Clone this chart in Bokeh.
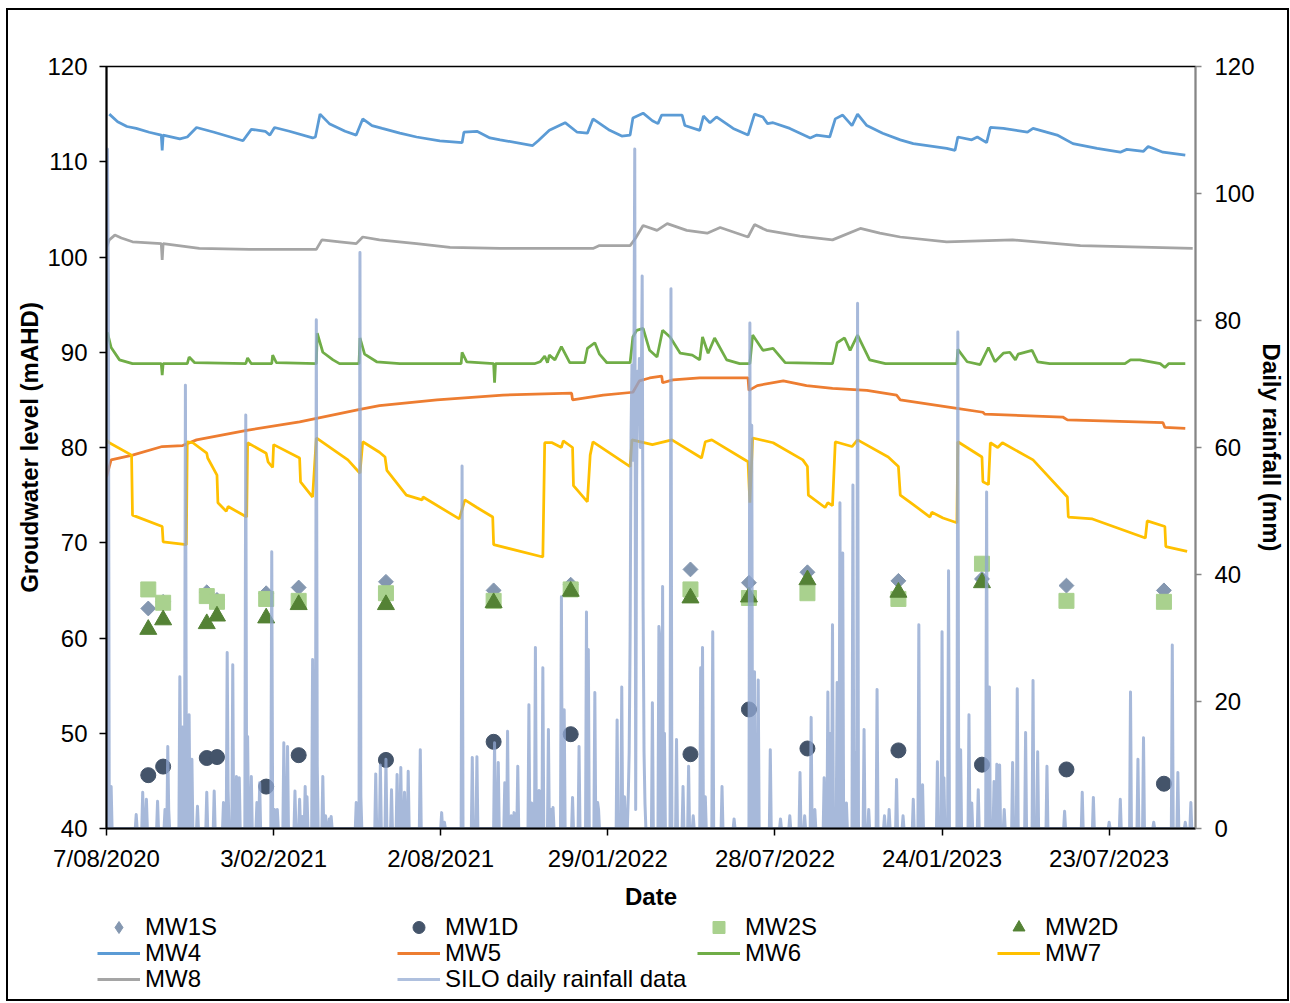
import numpy as np
from bokeh.plotting import figure
from bokeh.layouts import column
from bokeh.models import Range1d, LinearAxis, FixedTicker, Legend, LegendItem
from bokeh.embed import file_html
from bokeh.resources import INLINE

# ---------------- data (x = days since 7/08/2020) ----------------
START_DATE = "2020-08-07"
X_TICK_DAYS = [0, 180, 360, 540, 720, 900, 1080]
X_TICK_LABELS = ["7/08/2020", "3/02/2021", "2/08/2021", "29/01/2022",
                 "28/07/2022", "24/01/2023", "23/07/2023"]
X_END_DAY = 1173

SAMPLE_DAYS = [45, 61, 108, 119, 172, 207, 301, 417, 500, 629, 692, 755, 853, 943, 1034, 1139]
MW1S = [63.1, 63.8, 64.8, 64.0, 64.7, 65.3, 65.9, 65.0, 65.6, 67.2, 65.8, 66.9, 66.0, 66.2, 65.5, 65.0]
MW1D = [45.6, 46.5, 47.4, 47.5, 44.4, 47.7, 47.2, 49.1, 49.9, 47.8, 52.5, 48.4, 48.2, 46.7, 46.2, 44.7]
MW2S = [65.1, 63.7, 64.4, 63.8, 64.1, 63.9, 64.7, 63.9, 65.1, 65.1, 64.2, 64.7, 64.1, 67.8, 63.9, 63.8]
MW2D = [60.9, 61.9, 61.5, 62.3, 62.1, 63.5, 63.5, 63.7, 64.9, 64.2, 64.3, 66.1, 64.8, 65.8, float("nan"), float("nan")]

MW4_DAYS = [3, 12, 22, 32, 46, 59, 60, 61, 79, 87, 97, 116, 147, 156, 171, 176, 181, 197, 222, 225,
            230, 240, 257, 269, 276, 286, 297, 316, 334, 359, 383, 385, 399, 413, 424, 459, 465, 477,
            494, 507, 518, 524, 542, 555, 564, 567, 578, 588, 594, 598, 607, 620, 623, 639, 643, 650,
            657, 675, 691, 698, 707, 712, 718, 736, 758, 765, 779, 785, 793, 803, 809, 819, 836, 855,
            869, 905, 914, 917, 932, 938, 948, 952, 966, 992, 998, 1024, 1041, 1067, 1092, 1099, 1117,
            1122, 1138, 1162]
MW4 = [115.0, 114.2, 113.7, 113.5, 113.1, 112.8, 111.2, 112.8, 112.4, 112.6, 113.6, 113.1, 112.2, 113.4,
       113.2, 112.8, 113.6, 113.2, 112.5, 112.6, 115.0, 114.0, 113.2, 112.8, 114.5, 113.8, 113.5, 113.0,
       112.6, 112.2, 112.0, 113.1, 113.2, 112.5, 112.3, 111.7, 112.2, 113.3, 114.1, 113.1, 113.0, 114.5,
       113.3, 112.7, 112.8, 114.6, 115.1, 114.3, 114.0, 114.9, 114.9, 114.9, 113.8, 113.3, 114.8, 114.1,
       114.7, 113.5, 112.8, 115.0, 114.7, 114.0, 114.1, 113.5, 112.5, 112.8, 112.6, 114.5, 114.9, 113.8,
       115.0, 113.8, 113.0, 112.3, 111.9, 111.4, 111.2, 112.6, 112.3, 112.6, 112.0, 113.6, 113.5, 113.1,
       113.5, 112.8, 111.9, 111.4, 111.0, 111.3, 111.1, 111.6, 111.0, 110.7]

MW5_DAYS = [0, 3, 5, 28, 60, 82, 97, 151, 208, 273, 294, 356, 427, 501, 502, 535, 567, 574, 585, 598,
            599, 610, 639, 691, 692, 701, 729, 754, 782, 819, 851, 855, 916, 944, 946, 1030, 1035, 1138,
            1140, 1162]
MW5 = [76.9, 78.0, 78.7, 79.2, 80.1, 80.2, 80.8, 81.8, 82.7, 84.0, 84.4, 85.0, 85.5, 85.7, 85.0, 85.5,
       85.8, 87.0, 87.3, 87.5, 86.8, 87.1, 87.3, 87.3, 86.0, 86.5, 87.0, 86.5, 86.2, 86.0, 85.5, 85.0,
       84.1, 83.7, 83.5, 83.2, 82.9, 82.6, 82.1, 82.0]

MW6_DAYS = [1, 5, 14, 28, 59, 60, 61, 87, 89, 95, 150, 152, 156, 178, 179, 183, 226, 227, 233, 244,
            251, 272, 273, 278, 291, 316, 382, 383, 388, 417, 418, 419, 461, 467, 472, 475, 477, 483,
            490, 499, 515, 518, 526, 531, 539, 564, 567, 571, 578, 585, 593, 599, 607, 618, 631, 639,
            642, 648, 655, 668, 682, 693, 696, 707, 718, 731, 782, 787, 795, 801, 809, 822, 839, 916,
            917, 927, 941, 950, 957, 966, 973, 979, 982, 997, 1003, 1016, 1097, 1103, 1113, 1135, 1140,
            1144, 1162]
MW6 = [92.1, 90.5, 89.2, 88.8, 88.8, 87.6, 88.8, 88.8, 89.5, 88.9, 88.8, 89.4, 88.8, 88.8, 89.7, 88.9,
       88.8, 92.0, 90.0, 89.2, 88.8, 88.8, 91.5, 89.8, 89.0, 88.8, 88.8, 90.0, 89.0, 88.8, 86.8, 88.8,
       88.8, 89.0, 89.6, 88.9, 89.7, 89.2, 90.6, 88.9, 88.9, 90.4, 91.0, 89.8, 88.9, 88.9, 91.6, 92.3,
       92.5, 90.2, 89.5, 92.3, 91.6, 89.9, 89.7, 89.2, 91.6, 89.9, 91.5, 89.2, 88.8, 88.8, 91.8, 90.2,
       90.4, 88.9, 88.8, 91.0, 91.5, 90.2, 91.8, 89.2, 88.8, 88.8, 90.3, 89.0, 88.7, 90.5, 89.0, 89.9,
       90.0, 89.2, 89.8, 90.2, 89.0, 88.8, 88.8, 89.2, 89.2, 88.8, 88.4, 88.8, 88.8]

MW7_DAYS = [0, 3, 27, 28, 60, 61, 86, 87, 93, 108, 109, 119, 120, 129, 131, 151, 152, 172, 174, 179,
            180, 208, 209, 222, 226, 260, 273, 276, 294, 300, 302, 323, 340, 341, 380, 386, 399, 416,
            417, 470, 472, 480, 490, 492, 502, 503, 518, 521, 524, 564, 566, 588, 609, 641, 645, 652,
            691, 693, 696, 718, 750, 755, 756, 774, 777, 782, 785, 803, 809, 842, 853, 855, 865, 887,
            889, 901, 916, 917, 943, 944, 950, 952, 960, 965, 998, 1035, 1036, 1062, 1119, 1121, 1140,
            1141, 1164]
MW7 = [80.8, 80.5, 79.2, 72.9, 71.7, 70.1, 69.8, 80.6, 80.5, 79.4, 78.9, 77.1, 74.2, 73.3, 73.8, 72.7,
       80.5, 79.4, 78.5, 77.9, 80.3, 78.9, 76.4, 74.8, 81.0, 78.7, 77.3, 80.6, 79.5, 79.0, 77.6, 75.0,
       74.5, 74.8, 72.5, 74.5, 73.7, 72.7, 69.8, 68.5, 80.5, 80.5, 80.0, 80.7, 80.0, 76.0, 74.3, 79.2,
       80.6, 78.0, 80.8, 80.3, 80.8, 78.9, 80.6, 80.8, 78.5, 74.2, 81.0, 80.5, 78.7, 78.0, 75.0, 73.7,
       74.2, 73.9, 80.6, 80.1, 80.8, 79.0, 78.0, 75.0, 74.3, 72.7, 73.2, 72.6, 72.1, 80.6, 79.0, 76.4,
       76.1, 80.5, 80.0, 80.5, 78.7, 74.8, 72.7, 72.5, 70.5, 72.3, 71.7, 69.6, 69.1]

MW8_DAYS = [0, 3, 9, 16, 28, 59, 60, 61, 100, 154, 226, 232, 251, 269, 276, 294, 334, 370, 424, 524,
            531, 564, 570, 578, 593, 604, 625, 647, 661, 691, 698, 711, 747, 782, 812, 833, 855, 905,
            976, 1049, 1170]
MW8 = [101.0, 101.8, 102.3, 102.0, 101.6, 101.4, 99.7, 101.4, 100.9, 100.8, 100.8, 101.8, 101.6, 101.4,
       102.1, 101.8, 101.4, 101.0, 100.9, 100.9, 101.2, 101.2, 102.0, 103.3, 102.8, 103.5, 102.8, 102.5,
       103.1, 102.1, 103.4, 102.8, 102.2, 101.8, 103.0, 102.5, 102.1, 101.6, 101.8, 101.2, 100.9]

# SILO daily rainfall (mm): wet days only, every other day is 0 mm
RAIN_DAYS = [1, 2, 5, 32, 39, 43, 55, 63, 66, 67, 79, 80, 82, 85, 86, 89, 92, 98, 108, 116, 126,
             130, 131, 136, 140, 143, 150, 152, 156, 162, 165, 178, 181, 184, 191, 195, 203, 208, 211,
             214, 216, 222, 226, 227, 233, 236, 240, 242, 269, 273, 274, 290, 295, 301, 307, 313, 317,
             321, 325, 338, 361, 364, 383, 394, 399, 418, 422, 429, 432, 436, 439, 443, 455, 458, 462,
             466, 470, 476, 479, 481, 490, 493, 502, 509, 517, 519, 526, 529, 530, 550, 555, 558, 562,
             563, 564, 565, 566, 567, 568, 569, 570, 571, 572, 573, 574, 575, 576, 577, 578, 579, 580,
             588, 595, 596, 599, 601, 608, 614, 621, 627, 632, 640, 642, 645, 653, 663, 676, 693, 695,
             698, 702, 715, 726, 736, 747, 752, 759, 763, 773, 777, 780, 782, 787, 790, 793, 797, 804,
             807, 809, 816, 821, 830, 838, 843, 851, 858, 869, 875, 879, 895, 900, 902, 907, 917, 920,
             929, 932, 939, 948, 951, 956, 959, 962, 967, 976, 981, 990, 998, 1003, 1013, 1032, 1051,
             1063, 1080, 1092, 1103, 1111, 1117, 1128, 1148, 1154, 1162, 1168]
RAIN_MM = [107.0, 85.0, 6.6, 2.2, 5.7, 4.6, 4.3, 3.0, 12.9, 3.0, 23.9, 8.0, 16.0, 69.8, 12.0, 17.9,
           10.9, 3.5, 5.7, 5.9, 4.1, 27.7, 6.0, 25.8, 8.2, 8.0, 65.1, 14.5, 8.2, 4.1, 7.2, 43.6, 3.0,
           3.0, 13.5, 12.9, 5.9, 4.6, 1.9, 6.6, 5.0, 26.6, 80.1, 10.0, 8.2, 2.0, 1.5, 1.9, 4.1, 90.7,
           5.0, 8.6, 10.0, 10.9, 6.1, 8.5, 9.6, 5.7, 9.0, 12.4, 2.5, 1.0, 57.1, 11.2, 11.3, 13.5, 10.4,
           7.2, 15.3, 2.0, 2.5, 9.8, 19.5, 4.0, 28.5, 6.0, 25.3, 15.6, 3.0, 3.3, 36.5, 18.7, 4.9, 12.9,
           34.1, 28.2, 21.4, 4.1, 3.0, 17.1, 22.3, 5.0, 5.0, 12.0, 30.0, 62.0, 73.0, 58.0, 70.0, 107.0,
           3.0, 55.0, 72.0, 65.0, 74.0, 60.0, 68.0, 87.0, 35.0, 12.0, 4.0, 19.8, 31.8, 30.0, 38.1, 15.0,
           85.0, 14.0, 6.6, 9.8, 2.0, 25.3, 28.5, 5.0, 31.0, 6.6, 1.5, 79.6, 63.5, 24.7, 23.4, 12.4, 1.5,
           2.0, 8.8, 2.0, 17.5, 3.0, 8.0, 21.5, 15.0, 32.1, 23.0, 51.3, 43.4, 4.0, 54.1, 12.0, 82.7,
           15.6, 3.0, 21.9, 2.0, 3.0, 7.7, 2.0, 4.6, 32.1, 6.9, 10.5, 31.0, 8.0, 40.6, 78.2, 12.4, 17.9,
           4.0, 6.1, 53.0, 22.3, 7.4, 10.1, 10.0, 3.0, 10.4, 22.0, 15.1, 23.3, 12.1, 9.8, 2.7, 5.7, 4.9,
           1.0, 4.6, 21.5, 10.9, 14.3, 1.0, 28.9, 8.8, 1.0, 4.1]
RAIN_LAST_DAY = 1172

# legend layout: 4 columns x 3 rows, row-major as in the source chart
LEGEND_ORDER = ["MW1S", "MW1D", "MW2S", "MW2D",
                "MW4", "MW5", "MW6", "MW7",
                "MW8", "SILO daily rainfall data"]

# ---------------- styling ----------------
FONT = "Liberation Sans"
C_MW1S, C_MW1D, C_MW2S, C_MW2D = "#8497B0", "#44546A", "#A9D18E", "#548235"
C_MW4, C_MW5, C_MW6, C_MW7, C_MW8 = "#5B9BD5", "#ED7D31", "#70AD47", "#FFC000", "#A5A5A5"
C_RAIN = "#8EA5CF"
W = 1283
PH = 904

p = figure(width=W, height=PH, x_range=Range1d(0, X_END_DAY), y_range=Range1d(40, 120),
           output_backend="svg", toolbar_location=None,
           min_border_left=100, min_border_right=94, min_border_top=58, min_border_bottom=83)
p.frame_align = False
p.extra_y_ranges = {"rain": Range1d(0, 120)}
p.xgrid.visible = False
p.ygrid.visible = False
p.outline_line_color = "black"
p.outline_line_width = 1.5
p.background_fill_color = "white"
p.border_fill_color = None
p.border_fill_alpha = 0

# x axis
xa = p.xaxis[0]
xa.ticker = FixedTicker(ticks=X_TICK_DAYS)
xa.major_label_overrides = {d: lab for d, lab in zip(X_TICK_DAYS, X_TICK_LABELS)}
xa.axis_label = "Date"
# left axis
ya = p.yaxis[0]
ya.ticker = FixedTicker(ticks=list(range(40, 121, 10)))
ya.axis_label = "Groudwater level (mAHD)"
# right axis
ra = LinearAxis(y_range_name="rain", axis_label="Daily rainfall (mm)",
                ticker=FixedTicker(ticks=list(range(0, 121, 20))))
p.add_layout(ra, "right")

for ax in (xa, ya, ra):
    ax.minor_tick_line_color = None
    ax.major_tick_in = 0
    ax.major_tick_out = 7
    ax.major_tick_line_width = 1.5
    ax.axis_line_width = 2
    ax.axis_line_color = "black"
    ax.major_tick_line_color = "black"
    ax.major_label_text_font = FONT
    ax.major_label_text_font_size = "24px"
    ax.major_label_text_color = "black"
    ax.axis_label_text_font = FONT
    ax.axis_label_text_font_size = "24px"
    ax.axis_label_text_font_style = "bold"
    ax.axis_label_text_color = "black"
ra.axis_line_color = "#868686"
ra.axis_line_width = 1.5
ra.major_tick_line_color = "#868686"
ra.major_tick_out = 6
ra.major_label_standoff = 13
ra.axis_label_standoff = 0
ya.major_label_standoff = 12
ya.axis_label_standoff = 1
xa.major_label_standoff = 9
xa.axis_label_standoff = 8

# ---------------- glyphs ----------------
r1s = p.scatter(SAMPLE_DAYS, MW1S, marker="square", angle=np.pi / 4, size=10.5, color=C_MW1S)
r1d = p.scatter(SAMPLE_DAYS, MW1D, marker="circle", size=15, color=C_MW1D)
r2s = p.scatter(SAMPLE_DAYS, MW2S, marker="square", size=15, color=C_MW2S)
r2d = p.scatter(SAMPLE_DAYS, MW2D, marker="triangle", size=17, color=C_MW2D)

lw = 2.75
r4 = p.line(MW4_DAYS, MW4, color=C_MW4, line_width=lw)
r5 = p.line(MW5_DAYS, MW5, color=C_MW5, line_width=lw)
r6 = p.line(MW6_DAYS, MW6, color=C_MW6, line_width=lw)
r7 = p.line(MW7_DAYS, MW7, color=C_MW7, line_width=lw)
r8 = p.line(MW8_DAYS, MW8, color=C_MW8, line_width=lw)

rain_days = np.arange(0, RAIN_LAST_DAY + 1)
rain = np.zeros(len(rain_days))
rain[np.array(RAIN_DAYS)] = RAIN_MM
rr = p.line(rain_days, rain, color=C_RAIN, line_width=3, line_alpha=0.78,
            line_join="round", y_range_name="rain")

# ---------------- legend strip (second canvas under the chart) ----------------
QH = 1001 - 8 - PH
q = figure(width=W, height=QH, x_range=Range1d(0, 1), y_range=Range1d(0, 1),
           output_backend="svg", toolbar_location=None,
           min_border_left=0, min_border_right=0, min_border_top=0, min_border_bottom=0)
q.frame_align = False
q.axis.visible = False
q.grid.visible = False
q.outline_line_color = None
q.background_fill_color = None
q.background_fill_alpha = 0
q.border_fill_color = None
q.border_fill_alpha = 0

NAN = [float("nan")]
swatch = {
    "MW1S": q.scatter(NAN, NAN, marker="diamond", color=C_MW1S),
    "MW1D": q.scatter(NAN, NAN, marker="circle", color=C_MW1D),
    "MW2S": q.scatter(NAN, NAN, marker="square", color=C_MW2S),
    "MW2D": q.scatter(NAN, NAN, marker="triangle", color=C_MW2D),
    "MW4": q.line(NAN, NAN, color=C_MW4, line_width=3),
    "MW5": q.line(NAN, NAN, color=C_MW5, line_width=3),
    "MW6": q.line(NAN, NAN, color=C_MW6, line_width=3),
    "MW7": q.line(NAN, NAN, color=C_MW7, line_width=3),
    "MW8": q.line(NAN, NAN, color=C_MW8, line_width=3),
    "SILO daily rainfall data": q.line(NAN, NAN, color="#AFC0DE", line_width=3),
}
COL_X = [91, 391, 691, 991]   # left edge of each legend column (px in strip)
ROW_Y = [59, 33, 7]           # bottom of each legend row, measured up from strip bottom
for i, name in enumerate(LEGEND_ORDER):
    row, col = divmod(i, 4)
    lg = Legend(items=[LegendItem(label=name, renderers=[swatch[name]])],
                location=(COL_X[col], ROW_Y[row]), orientation="vertical",
                label_text_font=FONT, label_text_font_size="24px", label_text_color="black",
                glyph_width=43, glyph_height=30, label_height=26, label_standoff=5,
                spacing=0, padding=0, margin=0,
                border_line_color=None, background_fill_alpha=0)
    q.add_layout(lg, "center")

layout = column(p, q, spacing=0,
                styles={"margin-left": "6px", "margin-top": "8px",
                        "outline": "2px solid black", "outline-offset": "-2px"})

open("out.html", "w").write(file_html(layout, INLINE))
